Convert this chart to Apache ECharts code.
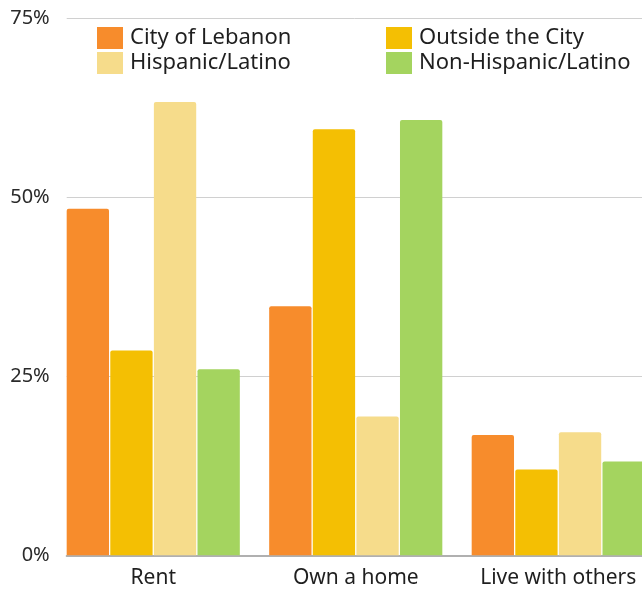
<!DOCTYPE html>
<html>
<head>
<meta charset="utf-8">
<script src="https://cdn.jsdelivr.net/npm/echarts@6/dist/echarts.min.js"></script>
<style>
  html, body { margin: 0; padding: 0; background: #fff; }
  #mychart { width: 642px; height: 591px; }
</style>
</head>
<body>
<div id="mychart"></div>
<script>
var categories = ['Rent', 'Own a home', 'Live with others'];
var cityOfLebanon = [48.4, 34.8, 16.8];
var outsideTheCity = [28.6, 59.5, 12.0];
var hispanicLatino = [63.3, 19.4, 17.2];
var nonHispanicLatino = [26.0, 60.8, 13.1];
var yTicks = [0, 25, 50, 75];

var font = '"Noto Sans", sans-serif';
var names = ['City of Lebanon', 'Outside the City', 'Hispanic/Latino', 'Non-Hispanic/Latino'];
var colors = ['#f78c2c', '#f4bf03', '#f6dc8b', '#a4d45f'];
var values = [cityOfLebanon, outsideTheCity, hispanicLatino, nonHispanicLatino];

var series = [];
for (var i = 0; i < names.length; i++) {
    series.push({
        name: names[i],
        type: 'bar',
        xAxisIndex: 1,
        yAxisIndex: 1,
        color: colors[i],
        barGap: '3%',
        barCategoryGap: '14.5%',
        itemStyle: { borderRadius: [2, 2, 0, 0] },
        data: values[i]
    });
}

var legendText = { fontFamily: font, fontSize: 22, color: '#1f1f1f', lineHeight: 22, padding: [0, 0, 0, 2] };

var chart = echarts.init(document.getElementById('mychart'));
chart.setOption({
    animation: false,
    textStyle: { fontFamily: font },
    legend: [{
        data: [names[0], names[2]],
        orient: 'vertical',
        left: 97, top: 27, padding: 0,
        icon: 'rect', itemWidth: 26, itemHeight: 22, itemGap: 3,
        textStyle: legendText
    }, {
        data: [names[1], names[3]],
        orient: 'vertical',
        left: 386, top: 27, padding: 0,
        icon: 'rect', itemWidth: 26, itemHeight: 22, itemGap: 3,
        textStyle: legendText
    }],
    grid: [
        // grid for the y axis, gridlines and baseline
        { left: 66.7, right: 0, top: 18.3, bottom: 35.7 },
        // grid for the bars, band starts half a gap left of the axis and runs past the edge
        { left: 52, width: 607.5, top: 18.3, bottom: 35.7, outerBoundsMode: 'none' }
    ],
    xAxis: [{
        gridIndex: 0,
        type: 'value', min: 0, max: 1,
        axisLine: { show: true, lineStyle: { color: '#b0b0b0', width: 2 } },
        axisTick: { show: false },
        axisLabel: { show: false },
        splitLine: { show: false }
    }, {
        gridIndex: 1,
        type: 'category',
        data: categories,
        axisLine: { show: false },
        axisTick: { show: false },
        axisLabel: { interval: 0, fontSize: 21, color: '#1f1f1f', margin: 12, fontFamily: font }
    }],
    yAxis: [{
        gridIndex: 0,
        type: 'value', min: yTicks[0], max: yTicks[yTicks.length - 1], interval: 25,
        axisLine: { show: false },
        axisTick: { show: false },
        axisLabel: { formatter: '{value}%', fontSize: 20, color: '#2a2a2a', margin: 17, fontFamily: font },
        splitLine: { lineStyle: { color: '#d0d0d0', width: 1 } }
    }, {
        gridIndex: 1,
        type: 'value', min: yTicks[0], max: yTicks[yTicks.length - 1], interval: 25,
        show: false,
        splitLine: { show: false }
    }],
    series: series
});
</script>
</body>
</html>
